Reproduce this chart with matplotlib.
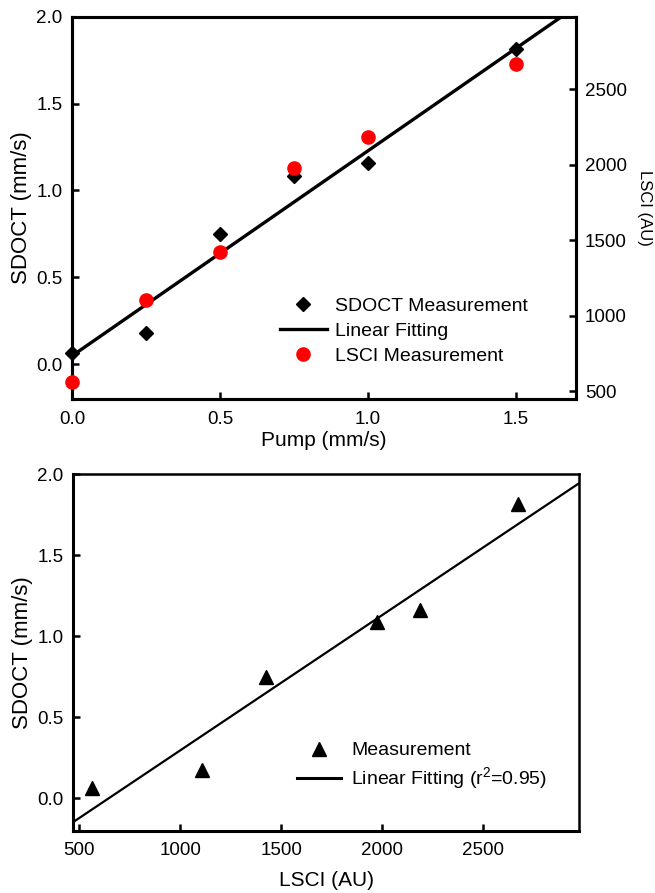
import numpy as np
import matplotlib
matplotlib.use('Agg')
import matplotlib.pyplot as plt
from matplotlib.lines import Line2D

plt.rcParams['font.family'] = ['Liberation Sans', 'DejaVu Sans']
plt.rcParams['mathtext.fontset'] = 'custom'
plt.rcParams['mathtext.rm'] = 'Liberation Sans'

# data
pump = [0.0, 0.25, 0.5, 0.75, 1.0, 1.5]
sdoct = [0.063, 0.177, 0.75, 1.085, 1.16, 1.815]
lsci = [563, 1107, 1424, 1976, 2185, 2670]

# fit lines as drawn in the figure (slope, intercept)
fit_top = [1.18, 0.048]
fit_bot = np.polyfit(lsci, sdoct, 1)

fig = plt.figure(figsize=(6.55, 8.93), dpi=100)

# ---- top panel
ax1 = fig.add_axes([0.1099, 0.5532, 0.7695, 0.4281])
ax2 = ax1.twinx()

ax1.set_xlim(0, 1.703)
ax1.set_ylim(-0.2, 2.0)
ax2.set_ylim(450, 2980)

xx = np.array(ax1.get_xlim())
fl, = ax1.plot(xx, np.polyval(fit_top, xx), color='black', lw=2.4, zorder=2)
dm, = ax1.plot(pump, sdoct, 'D', color='black', ms=7.2, clip_on=False, zorder=3)
rc, = ax2.plot(pump, lsci, 'o', color='red', mec='red', ms=9.5, clip_on=False, zorder=3)

ax1.set_xticks([0.0, 0.5, 1.0, 1.5])
ax1.set_xticklabels(['0.0', '0.5', '1.0', '1.5'])
ax1.set_yticks([0.0, 0.5, 1.0, 1.5, 2.0])
ax1.set_yticklabels(['0.0', '0.5', '1.0', '1.5', '2.0'])
ax2.set_yticks([500, 1000, 1500, 2000, 2500])

for a in (ax1, ax2):
    for s in a.spines.values():
        s.set_linewidth(2.2)
ax1.tick_params(axis='x', direction='in', length=5, width=1.8, labelsize=13.5, pad=8.5, top=False)
ax1.tick_params(axis='y', direction='in', length=5, width=1.8, labelsize=13.5, pad=7, right=False)
ax2.tick_params(axis='y', direction='in', length=5, width=1.8, labelsize=13.5, pad=6.5)

ax1.set_xlabel('Pump (mm/s)', fontsize=15, labelpad=2)
ax1.set_ylabel('SDOCT (mm/s)', fontsize=16, labelpad=3)
ax2.set_ylabel('LSCI (AU)', fontsize=12, rotation=270, va='bottom', labelpad=7)

ax2.legend([dm, fl, rc], ['SDOCT Measurement', 'Linear Fitting', 'LSCI Measurement'],
           loc='center left', bbox_to_anchor=(0.4127, 0.177), frameon=False,
           borderaxespad=0, borderpad=0, fontsize=14, handlelength=2.4,
           handletextpad=0.42, labelspacing=0.38)

# ---- bottom panel
ax3 = fig.add_axes([0.1119, 0.0698, 0.7725, 0.3994])
ax3.set_xlim(470, 2975)
ax3.set_ylim(-0.2, 2.0)

xb = np.array(ax3.get_xlim())
bl, = ax3.plot(xb, np.polyval(fit_bot, xb), color='black', lw=1.6)
tr, = ax3.plot(lsci, sdoct, '^', color='black', ms=9.5, clip_on=False)

ax3.set_xticks([500, 1000, 1500, 2000, 2500])
ax3.set_yticks([0.0, 0.5, 1.0, 1.5, 2.0])
ax3.set_yticklabels(['0.0', '0.5', '1.0', '1.5', '2.0'])
for side in ('left', 'bottom'):
    ax3.spines[side].set_linewidth(2.2)
for side in ('top', 'right'):
    ax3.spines[side].set_linewidth(1.8)
ax3.tick_params(axis='x', direction='in', length=5, width=1.8, labelsize=13.5, pad=8.5)
ax3.tick_params(axis='y', direction='in', length=5, width=1.8, labelsize=13.5, pad=7)

ax3.set_xlabel('LSCI (AU)', fontsize=15, labelpad=8)
ax3.set_ylabel('SDOCT (mm/s)', fontsize=16, labelpad=3)

leg_line = Line2D([], [], color='black', lw=2.2)
ax3.legend([tr, leg_line], ['Measurement', r'Linear Fitting (r$^\mathregular{2}$=0.95)'],
           loc='center left', bbox_to_anchor=(0.4415, 0.179), frameon=False,
           borderaxespad=0, borderpad=0, fontsize=14, handlelength=2.3,
           handletextpad=0.5, labelspacing=0.3)

fig.savefig('out.png', dpi=100)
